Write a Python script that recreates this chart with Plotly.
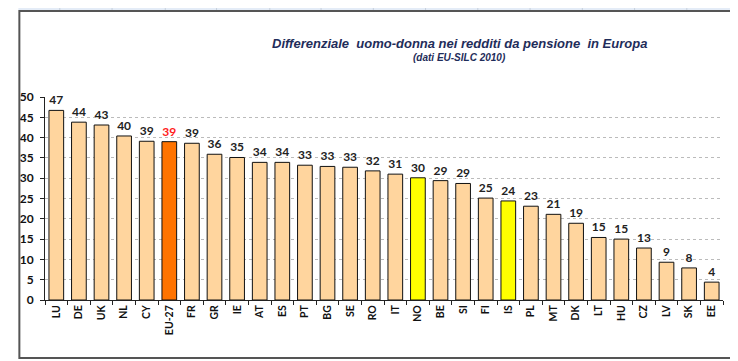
import plotly.graph_objects as go

countries = ["LU", "DE", "UK", "NL", "CY", "EU-27", "FR", "GR", "IE", "AT", "ES", "PT", "BG", "SE", "RO",
             "IT", "NO", "BE", "SI", "FI", "IS", "PL", "MT", "DK", "LT", "HU", "CZ", "LV", "SK", "EE"]
values = [46.7, 43.8, 43.1, 40.4, 39.1, 39.0, 38.6, 35.9, 35.1, 33.9, 33.9, 33.2, 32.9, 32.7, 31.8,
          31.0, 30.1, 29.4, 28.7, 25.1, 24.4, 23.1, 21.1, 18.9, 15.4, 15.0, 12.8, 9.3, 7.9, 4.4]
labels = ["47", "44", "43", "40", "39", "39", "39", "36", "35", "34", "34", "33", "33", "33", "32",
          "31", "30", "29", "29", "25", "24", "23", "21", "19", "15", "15", "13", "9", "8", "4"]
y_ticks = [0, 5, 10, 15, 20, 25, 30, 35, 40, 45, 50]

title_text = "<b><i>Differenziale  uomo-donna nei redditi da pensione  in Europa</i></b>"
subtitle_text = "<b><i>(dati EU-SILC 2010)</i></b>"

# the page body adds an 8px margin; work in reference pixels and shift
OFF = 8
W, H = 738 - OFF, 361 - OFF
L, R, T, B = 35 - OFF, 722.7 - OFF, 97 - OFF, 300 - OFF


def bar_color(c):
    if c == "EU-27":
        return "#FF7300"
    if c in ("NO", "IS"):
        return "#FFFF00"
    return "#FFD59E"


def label_color(c):
    return "#FF2020" if c == "EU-27" else "#222222"


fig = go.Figure()
fig.add_trace(go.Bar(
    x=countries, y=values,
    marker=dict(color=[bar_color(c) for c in countries], line=dict(color="#111111", width=1)),
    width=0.65,
    text=labels, textposition="outside",
    textfont=dict(family="Lato, Arial", size=12, weight="bold", color=[label_color(c) for c in countries]),
    cliponaxis=False,
))


def px_x(px):
    return (px - OFF - L) / (R - L)


def px_y(py):
    return (B - (py - OFF)) / (B - T)


shapes = []
# spreadsheet strip at top
shapes.append(dict(type="rect", xref="paper", yref="paper", x0=px_x(OFF), x1=px_x(738), y0=px_y(OFF), y1=px_y(10),
                   fillcolor="#E4ECF7", line=dict(width=0), layer="below"))
for cx in [50, 103, 157, 209, 263, 315, 368, 421, 474, 527, 580, 633, 686]:
    shapes.append(dict(type="line", xref="paper", yref="paper", x0=px_x(cx), x1=px_x(cx), y0=px_y(OFF), y1=px_y(10),
                       line=dict(color="#C5CFDB", width=1)))
# right spreadsheet area
shapes.append(dict(type="rect", xref="paper", yref="paper", x0=px_x(735), x1=px_x(738), y0=px_y(OFF), y1=px_y(361),
                   fillcolor="#EEF3FA", line=dict(width=0), layer="below"))
# chart frame
shapes.append(dict(type="rect", xref="paper", yref="paper", x0=px_x(OFF + 1), x1=px_x(734), y0=px_y(11),
                   y1=px_y(358), line=dict(color="#555555", width=2), fillcolor="rgba(0,0,0,0)"))

fig.update_layout(
    width=W, height=H, autosize=False,
    margin=dict(l=L, r=W - R, t=T, b=H - B, pad=0),
    paper_bgcolor="white", plot_bgcolor="white",
    showlegend=False,
    shapes=shapes,
    bargap=0.35,
    annotations=[
        dict(text=title_text, xref="paper", yref="paper", x=px_x(455), y=px_y(43), showarrow=False,
             xanchor="center", yanchor="middle",
             font=dict(family="Liberation Sans, Arial", size=13, color="#1F2D5A")),
        dict(text=subtitle_text, xref="paper", yref="paper", x=px_x(455), y=px_y(58), showarrow=False,
             xanchor="center", yanchor="middle",
             font=dict(family="Liberation Sans, Arial", size=10, color="#1F2D5A")),
    ],
)
fig.update_yaxes(range=[0, 50], tickvals=y_ticks, showgrid=True, gridcolor="#BBBBBB", griddash="dot",
                 gridwidth=1, showline=True, linecolor="#222222", linewidth=1, ticks="outside", ticklen=4,
                 tickcolor="#222222", zeroline=False, ticklabelstandoff=4,
                 tickfont=dict(family="Lato, Arial", size=12, weight="bold", color="#111111"))
fig.update_xaxes(showline=True, linecolor="#222222", linewidth=1, ticks="outside", ticklen=4, tickcolor="#222222",
                 tickson="boundaries", tickangle=-90,
                 tickfont=dict(family="Lato, Arial", size=10.5, weight="bold", color="#111111"))

fig.write_html("out.html")
